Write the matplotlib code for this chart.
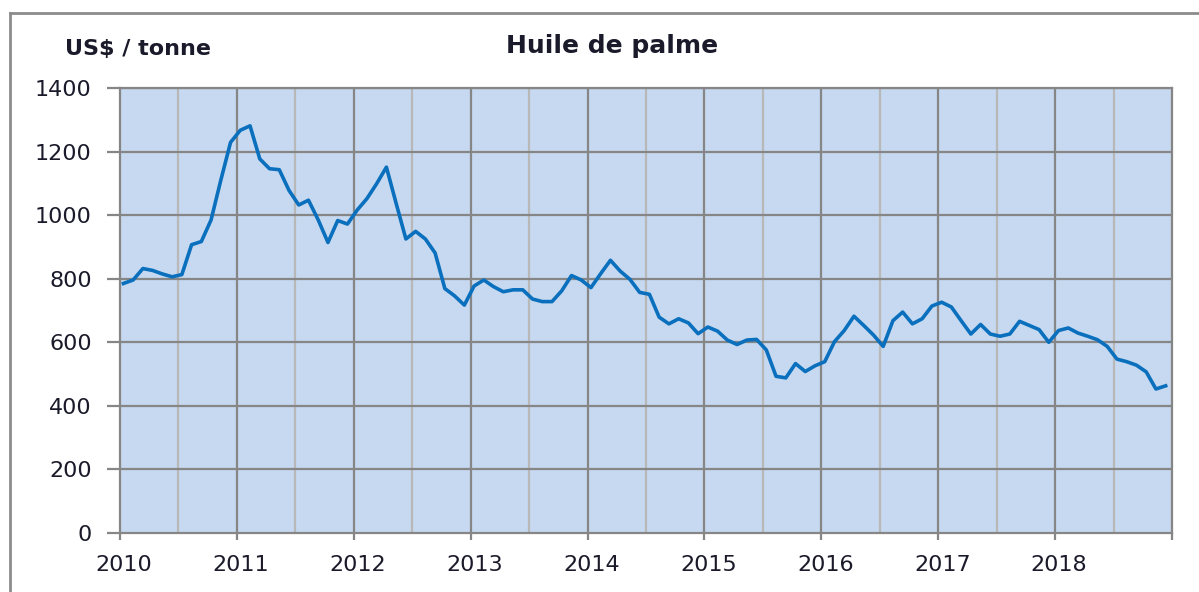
import matplotlib.pyplot as plt
import matplotlib.transforms as mtrans
import numpy as np
from matplotlib.lines import Line2D

# monthly palm oil prices, US$/tonne, Jan 2010 - Dec 2018
years = list(range(2010, 2019))
p2010 = [785, 796, 832, 826, 815, 806, 813, 907, 917, 985, 1110, 1229]
p2011 = [1267, 1281, 1177, 1146, 1143, 1078, 1032, 1047, 985, 914, 983, 972]
p2012 = [1016, 1052, 1099, 1151, 1037, 925, 949, 925, 881, 769, 746, 717]
p2013 = [777, 796, 775, 759, 765, 765, 736, 728, 728, 762, 810, 796]
p2014 = [772, 816, 858, 824, 798, 757, 751, 679, 658, 674, 661, 627]
p2015 = [648, 635, 607, 593, 607, 609, 576, 493, 488, 533, 508, 526]
p2016 = [539, 602, 637, 682, 653, 623, 587, 668, 695, 658, 674, 714]
p2017 = [726, 711, 668, 626, 656, 626, 619, 626, 666, 653, 640, 600]
p2018 = [637, 645, 629, 619, 608, 587, 547, 539, 528, 507, 453, 463]
yticks = [0, 200, 400, 600, 800, 1000, 1200, 1400]

prices = p2010 + p2011 + p2012 + p2013 + p2014 + p2015 + p2016 + p2017 + p2018
t = np.array([2010 + (i + 0.35) / 12 for i in range(len(prices))])

fig = plt.figure(figsize=(11.99, 5.92), dpi=100)
ax = fig.add_axes([120 / 1199, 1 - 533 / 592, 1052 / 1199, 445 / 592])

ax.set_facecolor('#c6d9f0')
ax.set_xlim(2010, 2019)
ax.set_ylim(0, 1400)

# grid: half-year lines lighter than year lines
for x in np.arange(2010.5, 2019, 1.0):
    ax.axvline(x, color='#b8b8b8', lw=1.6, zorder=1)
for x in range(2011, 2019):
    ax.axvline(x, color='#868686', lw=1.6, zorder=1)
for y in yticks[1:]:
    ax.axhline(y, color='#868686', lw=1.6, zorder=1)

ax.plot(t, prices, color='#0a6fbd', lw=2.6, zorder=3, solid_joinstyle='round')

for s in ax.spines.values():
    s.set_color('#868686')
    s.set_linewidth(1.6)

ax.set_yticks(yticks)
ax.set_yticklabels([str(v) for v in yticks])
ax.set_xticks(list(years) + [2019])
ax.set_xticklabels([str(y) for y in years] + [''])
ax.tick_params(axis='y', length=9.4, width=1.6, color='#868686', pad=11, labelsize=16,
               labelcolor='#1a1a2a')
ax.tick_params(axis='x', length=5, width=1.6, color='#868686', pad=11, labelsize=16,
               labelcolor='#1a1a2a')
# year labels sit a few pixels right of their tick
off = mtrans.ScaledTranslation(4 / 100, 0, fig.dpi_scale_trans)
for lab in ax.get_xticklabels():
    lab.set_transform(lab.get_transform() + off)

fig.text(612 / 1199, 1 - 46 / 592, 'Huile de palme', ha='center', va='center',
         fontsize=18, fontweight='bold', color='#1a1a2a')
fig.text(65 / 1199, 1 - 49 / 592, 'US$ / tonne', ha='left', va='center',
         fontsize=16, fontweight='bold', color='#1a1a2a')

# outer frame of the chart (top and left visible)
fig.add_artist(Line2D([10 / 1199, 10 / 1199], [0, 1 - 13 / 592], color='#8c8c8c', lw=2))
fig.add_artist(Line2D([10 / 1199, 1], [1 - 13 / 592, 1 - 13 / 592], color='#8c8c8c', lw=2))

fig.savefig('out.png', dpi=100)
